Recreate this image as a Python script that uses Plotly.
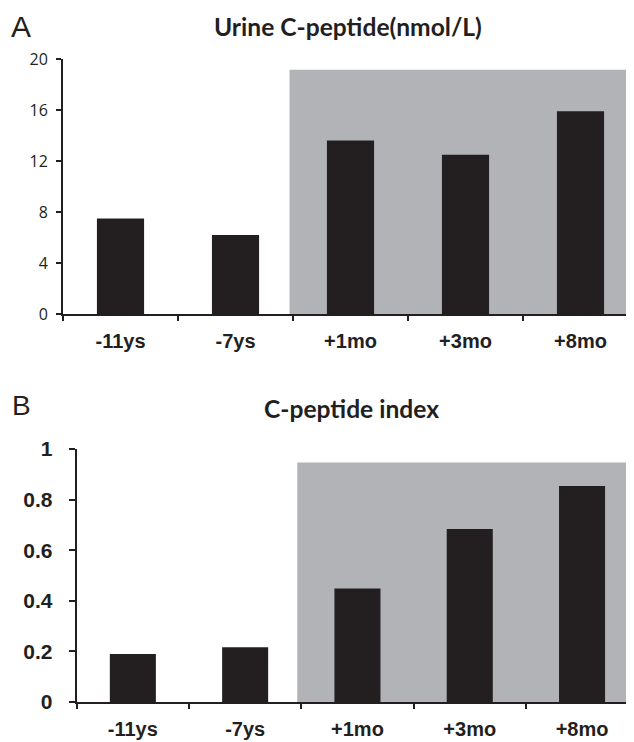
import plotly.graph_objects as go

categories = ["-11ys", "-7ys", "+1mo", "+3mo", "+8mo"]
urine_cpeptide = [7.5, 6.2, 13.6, 12.5, 15.9]
cpeptide_index = [0.19, 0.216, 0.449, 0.684, 0.854]

ticks_a = [0, 4, 8, 12, 16, 20]
ticks_b = [0, 0.2, 0.4, 0.6, 0.8, 1]
tick_b_text = ["0", "0.2", "0.4", "0.6", "0.8", "1"]

shade_start = 1.47
shade_top_a = 19.15
shade_top_b = 0.947

# page body has an 8px margin; lay out in screen pixels minus that offset
OFF = 8
W, H = 634 - OFF, 742 - OFF
INK = "#231f20"
GRAY = "#b2b3b7"

def px_x(p):
    return (p - OFF) / W

def px_y(p):
    return (H - (p - OFF)) / H

fig = go.Figure()
fig.add_trace(go.Bar(x=categories, y=urine_cpeptide, marker=dict(color=INK, line=dict(width=0)),
                     width=0.41, xaxis="x", yaxis="y", showlegend=False))
fig.add_trace(go.Bar(x=categories, y=cpeptide_index, marker=dict(color=INK, line=dict(width=0)),
                     width=0.41, xaxis="x2", yaxis="y2", showlegend=False))

xfont = dict(family="Liberation Sans, Arial", size=20, color=INK, weight="bold")
common_x = dict(type="category", showline=True, linecolor=INK, linewidth=2, ticks="outside",
                tickson="boundaries", ticklen=5, tickwidth=2, tickcolor=INK, showgrid=False,
                zeroline=False, tickfont=xfont, fixedrange=True, automargin=False,
                ticklabelstandoff=8)

a_left, a_right = 63, 634
b_left, b_right = 76.7, 634
sp_a, sp_b = 115.0, 112.3

fig.update_layout(
    width=W, height=H, margin=dict(l=0, r=0, t=0, b=0, autoexpand=False),
    paper_bgcolor="white", plot_bgcolor="white",
    bargap=0.59,
    xaxis=dict(**common_x, domain=[px_x(a_left), 1], anchor="y",
               range=[-0.5, -0.5 + (a_right - a_left) / sp_a]),
    yaxis=dict(domain=[px_y(314), px_y(59)], range=[0, 20], anchor="x", tickvals=ticks_a,
               showline=True, linecolor=INK, linewidth=2, ticks="outside", ticklen=5,
               tickwidth=2, tickcolor=INK, showgrid=False, zeroline=False, automargin=False,
               tickfont=dict(family="Open Sans", size=16, color=INK), ticklabelstandoff=5),
    xaxis2=dict(**common_x, domain=[px_x(b_left), 1], anchor="y2",
                range=[-0.5, -0.5 + (b_right - b_left) / sp_b]),
    yaxis2=dict(domain=[px_y(702), px_y(449)], range=[0, 1], anchor="x2", tickvals=ticks_b,
                ticktext=tick_b_text, automargin=False,
                showline=True, linecolor=INK, linewidth=2, ticks="outside", ticklen=6,
                tickwidth=2, tickcolor=INK, showgrid=False, zeroline=False,
                tickfont=dict(family="Liberation Sans, Arial", size=21, color=INK, weight="bold"),
                ticklabelstandoff=12),
    shapes=[
        dict(type="rect", xref="x", yref="y", x0=shade_start, x1=4.5, y0=0, y1=shade_top_a,
             fillcolor=GRAY, line=dict(width=0), layer="below"),
        dict(type="rect", xref="x2", yref="y2", x0=shade_start - 0.006, x1=4.5, y0=0, y1=shade_top_b,
             fillcolor=GRAY, line=dict(width=0), layer="below"),
    ],
    annotations=[
        dict(text="A", x=px_x(10), y=px_y(26), xref="paper", yref="paper", xanchor="left",
             yanchor="middle", showarrow=False, borderpad=0,
             font=dict(family="Liberation Sans, Arial", size=30, color=INK)),
        dict(text="Urine C-peptide(nmol/L)", x=px_x(348), y=px_y(27), xref="paper", yref="paper",
             xanchor="center", yanchor="middle", showarrow=False,
             font=dict(family="Lato", size=24.6, color=INK, weight="bold")),
        dict(text="B", x=px_x(10), y=px_y(405), xref="paper", yref="paper", xanchor="left",
             yanchor="middle", showarrow=False,
             font=dict(family="Liberation Sans, Arial", size=28, color=INK)),
        dict(text="C-peptide index", x=px_x(351.5), y=px_y(408), xref="paper", yref="paper",
             xanchor="center", yanchor="middle", showarrow=False,
             font=dict(family="Lato", size=24.6, color=INK, weight="bold")),
    ],
)

fig.write_html("out.html")
